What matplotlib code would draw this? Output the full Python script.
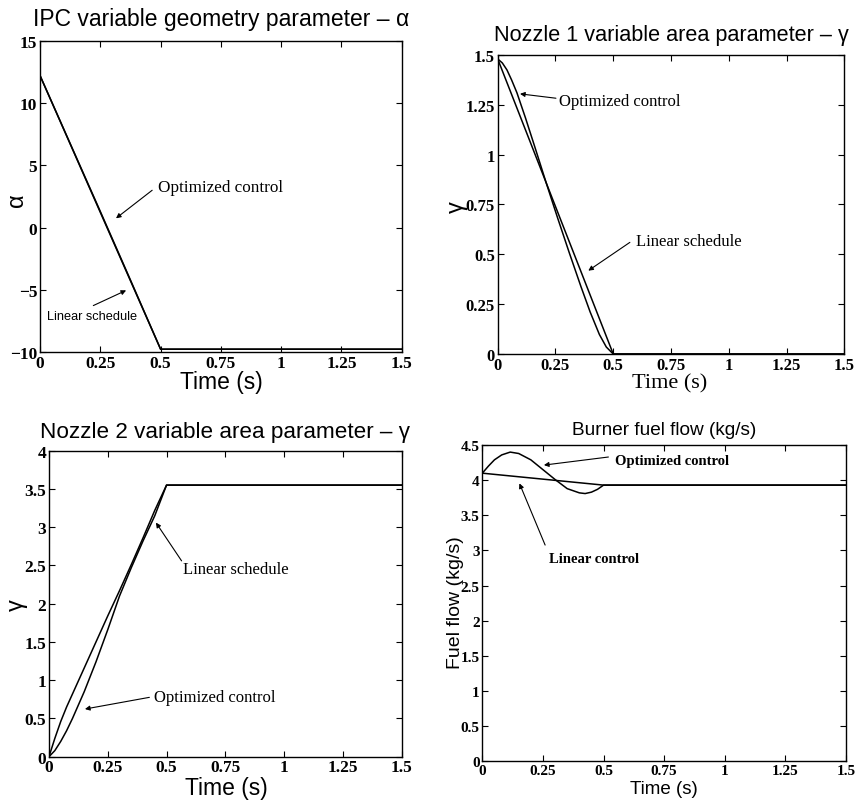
import numpy as np
import matplotlib
matplotlib.use("Agg")
import matplotlib.pyplot as plt

# IPC variable geometry parameter alpha
t_alpha = [0, 0.5, 1.5]
alpha_linear = [12.2, -9.75, -9.75]
t_alpha_opt = [0, 0.125, 0.25, 0.375, 0.5, 1.5]
alpha_opt = [12.2, 6.75, 1.3, -4.2, -9.75, -9.75]

# nozzle 1 area parameter
t_noz1_lin = [0, 0.5, 1.5]
noz1_lin = [1.48, 0.0, 0.0]
t_noz1_opt = [0, 0.02, 0.04, 0.06, 0.083, 0.12, 0.16, 0.21, 0.26, 0.31, 0.36,
              0.40, 0.44, 0.47, 0.5, 1.5]
noz1_opt = [1.48, 1.46, 1.425, 1.375, 1.311, 1.185, 1.041, 0.858, 0.68, 0.507,
            0.339, 0.211, 0.098, 0.035, 0.0, 0.0]

# nozzle 2 area parameter
t_noz2 = [0, 0.025, 0.05, 0.075, 0.1, 0.15, 0.2, 0.25, 0.3, 0.35, 0.4, 0.45, 0.5, 1.5]
noz2_lin = [0, 0.24, 0.46, 0.65, 0.82, 1.16, 1.5, 1.84, 2.17, 2.51, 2.86, 3.22, 3.55, 3.55]
noz2_opt = [0, 0.08, 0.2, 0.34, 0.5, 0.85, 1.24, 1.66, 2.1, 2.47, 2.82, 3.15, 3.55, 3.55]

# burner fuel flow
t_fuel_lin = [0, 0.5, 1.5]
fuel_lin = [4.1, 3.93, 3.93]
t_fuel_opt = [0, 0.025, 0.05, 0.08, 0.115, 0.15, 0.2, 0.25, 0.3, 0.35, 0.4, 0.424,
              0.45, 0.475, 0.5, 1.5]
fuel_opt = [4.1, 4.2, 4.29, 4.36, 4.40, 4.38, 4.29, 4.15, 4.01, 3.88, 3.82, 3.81,
            3.83, 3.87, 3.93, 3.93]

x_ticks = [0, 0.25, 0.5, 0.75, 1, 1.25, 1.5]
x_ticklabels = ["0", "0.25", "0.5", "0.75", "1", "1.25", "1.5"]

sans = "Liberation Sans"
serif = "Liberation Serif"

fig = plt.figure(figsize=(8.59, 8.03), dpi=100)

def setup(ax, yticks, ylabels, tsize):
    ax.set_xlim(0, 1.5)
    ax.set_xticks(x_ticks)
    ax.set_xticklabels(x_ticklabels)
    ax.set_ylim(yticks[0], yticks[-1])
    ax.set_yticks(yticks)
    ax.set_yticklabels(ylabels)
    ax.tick_params(direction="in", top=True, right=True, length=4, width=0.8, pad=2)
    for lab in ax.get_xticklabels() + ax.get_yticklabels():
        lab.set_family(serif)
        lab.set_weight("bold")
        lab.set_size(tsize)
    for s in ax.spines.values():
        s.set_linewidth(1.0)

def arrow_tail(ax, head, tail):
    ax.annotate("", xy=head, xytext=tail,
                arrowprops=dict(arrowstyle="-|>", lw=0.8, color="k",
                                mutation_scale=7, shrinkA=0, shrinkB=0))

lw = 1.1

# top left
ax1 = fig.add_axes([0.0466, 0.5600, 0.4211, 0.3881])
ax1.plot(t_alpha, alpha_linear, color="k", lw=lw)
ax1.plot(t_alpha_opt, alpha_opt, color="k", lw=lw)
setup(ax1, [-10, -5, 0, 5, 10, 15], ["\u221210", "\u22125", "0", "5", "10", "15"], 12.5)
ax1.set_title("IPC variable geometry parameter \u2013 \u03b1", family=sans, fontsize=16.5, pad=11)
ax1.set_xlabel("Time (s)", family=sans, fontsize=16.5, va="center")
ax1.xaxis.set_label_coords(0.502, -0.095)
ax1.set_ylabel("\u03b1", family=sans, fontsize=17, va="center", ha="center")
ax1.yaxis.set_label_coords(-0.064, 0.492)
arrow_tail(ax1, (0.315, 0.75), (0.465, 3.0))
ax1.text(0.49, 3.23, "Optimized control", family=serif, fontsize=12.3, va="center")
arrow_tail(ax1, (0.357, -5.03), (0.221, -6.25))
ax1.text(0.03, -7.05, "Linear schedule", family=sans, fontsize=9.2, va="center")

# top right
ax2 = fig.add_axes([0.5794, 0.5579, 0.4035, 0.3724])
ax2.plot(t_noz1_lin, noz1_lin, color="k", lw=lw)
ax2.plot(t_noz1_opt, noz1_opt, color="k", lw=lw)
setup(ax2, [0, 0.25, 0.5, 0.75, 1, 1.25, 1.5], ["0", "0.25", "0.5", "0.75", "1", "1.25", "1.5"], 12)
ax2.set_title("Nozzle 1 variable area parameter \u2013 \u03b3", family=sans, fontsize=15.6, pad=10.5)
ax2.set_xlabel("Time (s)", family=serif, fontsize=16, va="center")
ax2.xaxis.set_label_coords(0.497, -0.097)
ax2.set_ylabel("\u03b3", family=sans, fontsize=17, va="center", ha="center")
ax2.yaxis.set_label_coords(-0.118, 0.495)
arrow_tail(ax2, (0.0965, 1.305), (0.252, 1.283))
ax2.text(0.267, 1.271, "Optimized control", family=serif, fontsize=12, va="center")
arrow_tail(ax2, (0.392, 0.418), (0.572, 0.56))
ax2.text(0.597, 0.568, "Linear schedule", family=serif, fontsize=12, va="center")

# bottom left
ax3 = fig.add_axes([0.0570, 0.0564, 0.4106, 0.3811])
ax3.plot(t_noz2, noz2_lin, color="k", lw=lw)
ax3.plot(t_noz2, noz2_opt, color="k", lw=lw)
setup(ax3, [0, 0.5, 1, 1.5, 2, 2.5, 3, 3.5, 4], ["0", "0.5", "1", "1.5", "2", "2.5", "3", "3.5", "4"], 12.5)
ax3.set_title("Nozzle 2 variable area parameter \u2013 \u03b3", family=sans, fontsize=16.2, pad=10)
ax3.set_xlabel("Time (s)", family=sans, fontsize=16.5, va="center")
ax3.xaxis.set_label_coords(0.502, -0.102)
ax3.set_ylabel("\u03b3", family=sans, fontsize=17, va="center", ha="center")
ax3.yaxis.set_label_coords(-0.091, 0.499)
arrow_tail(ax3, (0.455, 3.06), (0.564, 2.56))
ax3.text(0.571, 2.454, "Linear schedule", family=serif, fontsize=12, va="center")
arrow_tail(ax3, (0.153, 0.623), (0.427, 0.776))
ax3.text(0.447, 0.776, "Optimized control", family=serif, fontsize=12, va="center")

# bottom right
ax4 = fig.add_axes([0.5615, 0.0507, 0.4234, 0.3938])
ax4.plot(t_fuel_lin, fuel_lin, color="k", lw=lw)
ax4.plot(t_fuel_opt, fuel_opt, color="k", lw=lw)
setup(ax4, [0, 0.5, 1, 1.5, 2, 2.5, 3, 3.5, 4, 4.5],
      ["0", "0.5", "1", "1.5", "2", "2.5", "3", "3.5", "4", "4.5"], 11)
ax4.set_title("Burner fuel flow (kg/s)", family=sans, fontsize=13.7, pad=8)
ax4.set_xlabel("Time (s)", family=sans, fontsize=13.5, va="center")
ax4.xaxis.set_label_coords(0.5, -0.086)
ax4.set_ylabel("Fuel flow (kg/s)", family=sans, fontsize=14, va="center", ha="center")
ax4.yaxis.set_label_coords(-0.075, 0.504)
arrow_tail(ax4, (0.254, 4.215), (0.52, 4.33))
ax4.text(0.547, 4.276, "Optimized control", family=serif, fontsize=10.5,
         weight="bold", va="center")
arrow_tail(ax4, (0.153, 3.955), (0.259, 3.077))
ax4.text(0.276, 2.888, "Linear control", family=serif, fontsize=10.5,
         weight="bold", va="center")

fig.savefig("out.png", dpi=100)
